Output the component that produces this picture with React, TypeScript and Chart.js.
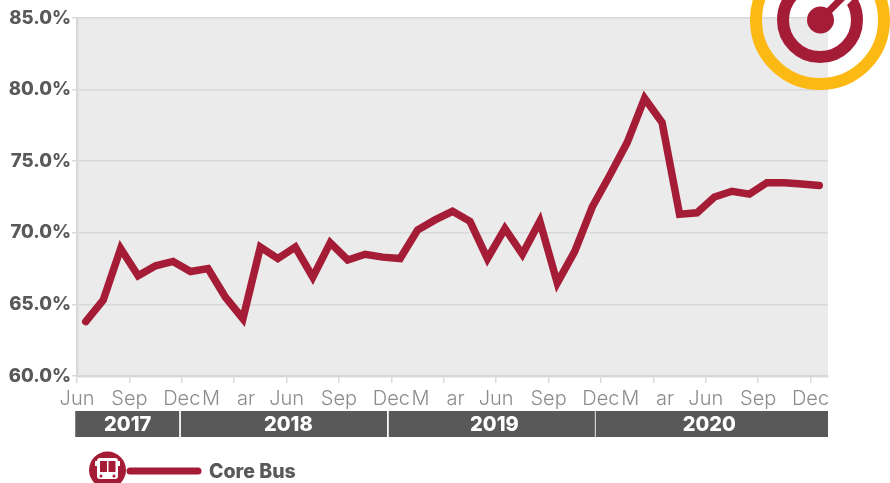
import React, { useEffect, useRef } from "react";
import { Chart, registerables } from "chart.js";

Chart.register(...registerables);

const months = [
  "Jun 2017","Jul 2017","Aug 2017","Sep 2017","Oct 2017","Nov 2017","Dec 2017",
  "Jan 2018","Feb 2018","Mar 2018","Apr 2018","May 2018","Jun 2018","Jul 2018","Aug 2018","Sep 2018","Oct 2018","Nov 2018","Dec 2018",
  "Jan 2019","Feb 2019","Mar 2019","Apr 2019","May 2019","Jun 2019","Jul 2019","Aug 2019","Sep 2019","Oct 2019","Nov 2019","Dec 2019",
  "Jan 2020","Feb 2020","Mar 2020","Apr 2020","May 2020","Jun 2020","Jul 2020","Aug 2020","Sep 2020","Oct 2020","Nov 2020","Dec 2020",
];
const coreBus = [
  63.8,65.3,68.9,67.0,67.7,68.0,67.3,
  67.5,65.5,64.0,69.0,68.2,69.0,66.9,69.3,68.1,68.5,68.3,68.2,
  70.2,70.9,71.5,70.8,68.2,70.3,68.5,70.8,66.5,68.7,71.8,74.0,
  76.3,79.4,77.7,71.3,71.4,72.5,72.9,72.7,73.5,73.5,73.4,73.3,
];
const tickLabels = ["Jun","Sep","Dec","M   ar  ","Jun","Sep","Dec","M   ar  ","Jun","Sep","Dec","M   ar  ","Jun","Sep","Dec"];
const years = ["2017","2018","2019","2020"];
const yearStarts = [-0.1,5.95,17.85,29.7];
const yearEnds = [5.85,17.75,29.65,43];
const yearCentres = [2.9,12.1,23.9,36.2];

const RED = "#a51c36";
const GREY = "#595959";
const LINE = "#d9d9d9";
const SANS = "Inter, 'Open Sans', sans-serif";

const decor = {
  id: "decor",
  beforeDraw(chart: any) {
    const { ctx, chartArea: a } = chart;
    ctx.save();
    ctx.fillStyle = "#ebebeb";
    ctx.fillRect(a.left, a.top, a.right - a.left, a.bottom - a.top);
    ctx.restore();
  },
  afterDraw(chart: any) {
    const { ctx } = chart;
    const s = chart.scales.x2;
    ctx.save();
    years.forEach((y, i) => {
      const l = s.getPixelForValue(yearStarts[i]);
      const r = s.getPixelForValue(yearEnds[i]);
      ctx.fillStyle = GREY;
      ctx.fillRect(l, 411, r - l, 26);
      ctx.fillStyle = "#fff";
      ctx.font = `800 20px ${SANS}`;
      ctx.textAlign = "center";
      ctx.textBaseline = "middle";
      ctx.fillText(y, s.getPixelForValue(yearCentres[i]), 425);
    });
    ctx.restore();
  },
};

export default function App() {
  const ref = useRef<HTMLCanvasElement>(null);
  useEffect(() => {
    const chart = new Chart(ref.current!, {
      type: "line",
      data: {
        labels: months,
        datasets: [{
          label: "Core Bus",
          data: coreBus,
          borderColor: RED,
          borderWidth: 7.5,
          pointRadius: 0,
          tension: 0,
          borderCapStyle: "round",
          borderJoinStyle: "miter",
          clip: false,
        }],
      },
      options: {
        animation: false,
        responsive: false,
        layout: { padding: { top: 18, right: 62, left: 0, bottom: 0 } },
        plugins: { legend: { display: false }, tooltip: { enabled: false } },
        scales: {
          x: { display: false, offset: true },
          x2: {
            type: "linear",
            position: "bottom",
            min: 0,
            max: 43,
            afterFit(s: any) { s.height = 107; },
            grid: { drawOnChartArea: false, color: LINE, lineWidth: 1.5, tickLength: 7 },
            border: { color: LINE, width: 2.5 },
            ticks: {
              stepSize: 3,
              includeBounds: false,
              autoSkip: false,
              maxRotation: 0,
              padding: 4,
              color: "#8c8c8c",
              font: { family: SANS, size: 20, weight: "300" },
              callback: (v: any) => tickLabels[Math.round(Number(v) / 3)],
            },
          },
          y: {
            min: 60,
            max: 85,
            afterFit(s: any) { s.width = 77; },
            grid: { color: LINE, lineWidth: 1.5, tickLength: 5 },
            border: { color: LINE, width: 2.5 },
            ticks: {
              stepSize: 5,
              padding: 1,
              color: GREY,
              font: { family: SANS, size: 18.5, weight: "800" },
              callback: (v: any) => Number(v).toFixed(1) + "%",
            },
          },
        },
      },
      plugins: [decor],
    } as any);
    return () => chart.destroy();
  }, []);

  return (
    <div style={{ position: "absolute", left: 0, top: 0, width: 890, height: 483, overflow: "hidden", background: "#fff" }}>
      <canvas ref={ref} width={890} height={483} style={{ position: "absolute", left: 0, top: 0, display: "block" }} />
      <svg width={890} height={483} style={{ position: "absolute", left: 0, top: 0 }}>
        <circle cx={820} cy={20} r={64} fill="none" stroke="#fdb913" strokeWidth={12} />
        <circle cx={820} cy={20} r={37} fill="none" stroke={RED} strokeWidth={12} />
        <line x1={820} y1={20} x2={880} y2={-40} stroke="#fff" strokeWidth={17} />
        <line x1={820} y1={20} x2={880} y2={-40} stroke={RED} strokeWidth={7} />
        <circle cx={820.5} cy={20} r={13.5} fill={RED} />
        <circle cx={107.5} cy={470} r={18.5} fill={RED} />
        <rect x={97} y={458} width={21} height={21} rx={3} fill="#fff" />
        <rect x={95} y={461} width={2} height={5} fill="#fff" />
        <rect x={118} y={461} width={2} height={5} fill="#fff" />
        <rect x={100} y={461} width={7} height={11} fill={RED} />
        <rect x={108.5} y={461} width={7} height={11} fill={RED} />
        <circle cx={101} cy={476} r={1.5} fill={RED} />
        <circle cx={114} cy={476} r={1.5} fill={RED} />
        <line x1={130} y1={471} x2={198} y2={471} stroke={RED} strokeWidth={7} strokeLinecap="round" />
      </svg>
      <div style={{ position: "absolute", left: 209, top: 460, font: `800 19.5px ${SANS}`, color: GREY, lineHeight: "22px" }}>Core Bus</div>
    </div>
  );
}
